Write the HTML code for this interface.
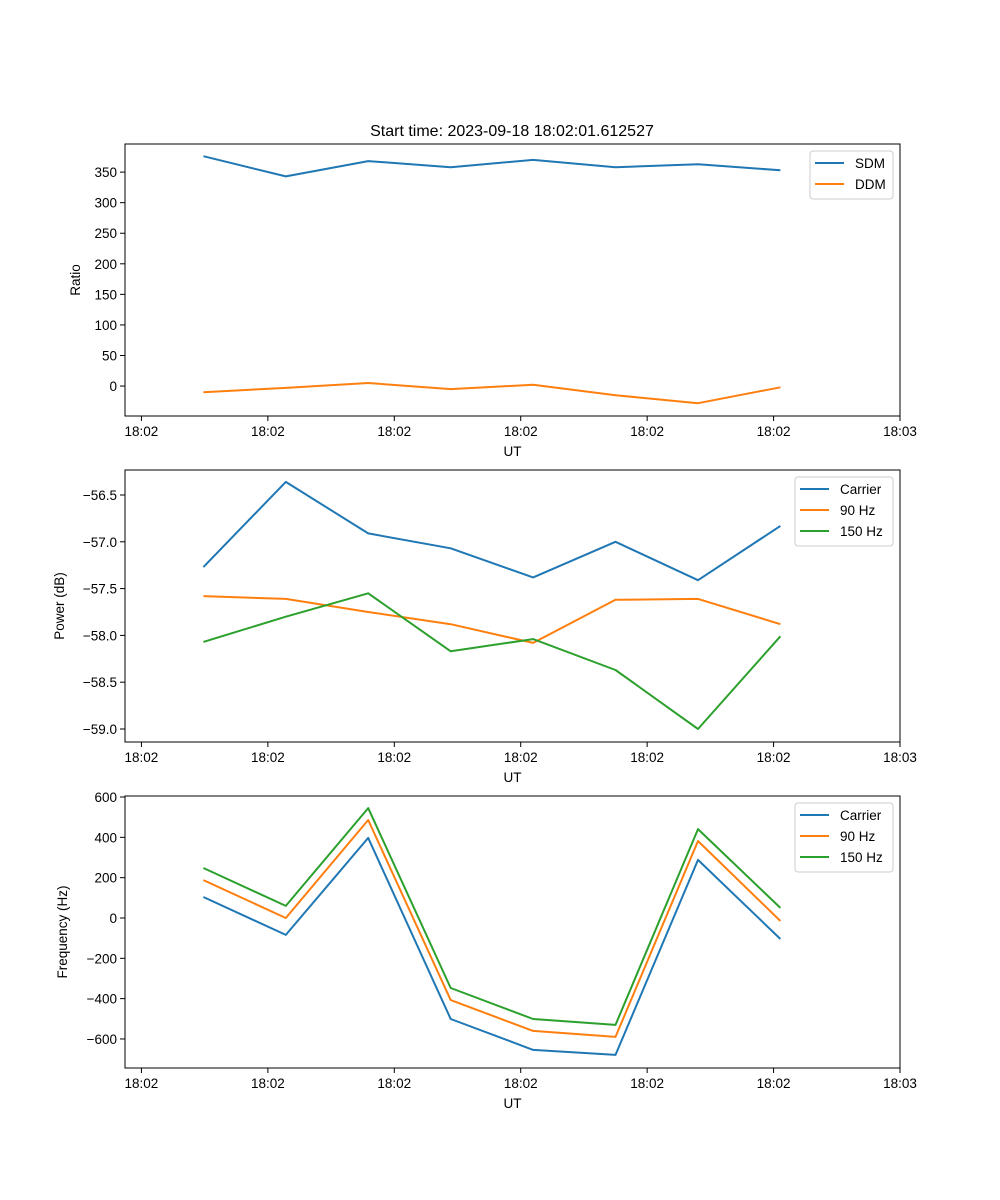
<!DOCTYPE html>
<html><head><meta charset="utf-8"><style>
html,body{margin:0;padding:0;background:#fff;}
svg{display:block;font-family:"Liberation Sans","DejaVu Sans",sans-serif;}
</style></head><body>
<svg id="fig" width="1000" height="1200" viewBox="0 0 1000 1200" xmlns="http://www.w3.org/2000/svg">
<text x="512" y="136" font-size="16" text-anchor="middle">Start time: 2023-09-18 18:02:01.612527</text>
</svg>
<script>
// x data in seconds after 18:02:00
const xTickVals = [0,10,20,30,40,50,60];
const xTickLabels = ["18:02","18:02","18:02","18:02","18:02","18:02","18:03"];
const xTimes = [4.9,11.42,17.94,24.46,30.98,37.5,44.02,50.54];

const ratioSeries = ["SDM","DDM"];
const sdmValues = [376,343,368,358,370,358,363,353];
const ddmValues = [-10,-3,5,-5,2,-15,-28,-2];
const ratioTicks = [0,50,100,150,200,250,300,350];

const sigSeries = ["Carrier","90 Hz","150 Hz"];
const powerCarrier = [-57.27,-56.36,-56.91,-57.07,-57.38,-57.0,-57.41,-56.83];
const power90 = [-57.58,-57.61,-57.75,-57.88,-58.08,-57.62,-57.61,-57.88];
const power150 = [-58.07,-57.80,-57.55,-58.17,-58.04,-58.37,-59.0,-58.01];
const powerTicks = [-59.0,-58.5,-58.0,-57.5,-57.0,-56.5];

const freqCarrier = [104,-84,397,-501,-654,-679,288,-104];
const freq90 = [188,0,486,-407,-560,-590,382,-15];
const freq150 = [248,60,545,-347,-501,-530,441,50];
const freqTicks = [-600,-400,-200,0,200,400,600];

const colors = ["#1f77b4","#ff7f0e","#2ca02c"];
const NS = "http://www.w3.org/2000/svg";
const svg = document.getElementById("fig");
function mk(tag, attrs, parent){const e=document.createElementNS(NS,tag);for(const k in attrs)e.setAttribute(k,attrs[k]);(parent||svg).appendChild(e);return e;}

const L=125,R=900,xMin=-1.3,xMax=60;
function xs(v){return L+(v-xMin)/(xMax-xMin)*(R-L);}

function panel(name, top, bot, yMin, yMax, yTicks, fmt, series, names, ylabel, legend){
  const g=mk("g",{});
  
  
  const ys=v=>bot-(v-yMin)/(yMax-yMin)*(bot-top);
  series.forEach((arr,i)=>{
    const p=mk("polyline",{points:arr.map((v,j)=>xs(xTimes[j]).toFixed(1)+","+ys(v).toFixed(1)).join(" "),fill:"none",stroke:colors[i],"stroke-width":2,"stroke-linejoin":"round"},g);
    
    
  });
  const fr=mk("rect",{x:L,y:top,width:R-L,height:bot-top,fill:"none",stroke:"#000","stroke-width":1},g);
  
  
  xTickVals.forEach((v,i)=>{
    const x=xs(v);
    mk("line",{x1:x,x2:x,y1:bot,y2:bot+5,stroke:"#000"},g);
    const t=mk("text",{x:x,y:bot+20,"font-size":13.5,"text-anchor":"middle"},g);
    t.textContent=xTickLabels[i];
    
    
  });
  const xl=mk("text",{x:(L+R)/2,y:bot+40,"font-size":13.5,"text-anchor":"middle"},g);
  xl.textContent="UT";
  
  
  yTicks.forEach(v=>{
    const y=ys(v);
    mk("line",{x1:L-5,x2:L,y1:y,y2:y,stroke:"#000"},g);
    const t=mk("text",{x:L-8,y:y+5,"font-size":13.5,"text-anchor":"end"},g);
    t.textContent=fmt(v);
    
    
  });
  const yl=mk("text",{x:0,y:0,"font-size":13.5,"text-anchor":"middle",transform:`translate(${legend.yl},${(top+bot)/2}) rotate(-90)`},g);
  yl.textContent=ylabel;
  
  
  const lg=mk("g",{},g);
  
  
  mk("rect",{x:legend.x,y:top+7,width:R-7-legend.x,height:names.length*21+6,rx:3,fill:"#fff","fill-opacity":0.8,stroke:"#ccc"},lg);
  names.forEach((n,i)=>{
    const y=top+19+i*21;
    mk("line",{x1:legend.x+5,x2:legend.x+34,y1:y,y2:y,stroke:colors[i],"stroke-width":2},lg);
    const t=mk("text",{x:legend.x+45,y:y+5,"font-size":13.5},lg);
    t.textContent=n;
    
    
  });
}
panel("ratio",144,416,-49,396,ratioTicks,v=>String(v),[sdmValues,ddmValues],ratioSeries,"Ratio",{x:810,yl:80});
panel("power",470,742,-59.139,-56.233,powerTicks,v=>"\u2212"+Math.abs(v).toFixed(1),[powerCarrier,power90,power150],sigSeries,"Power (dB)",{x:795,yl:64});
panel("frequency",796,1068,-744,605,freqTicks,v=>(v<0?"\u2212":"")+Math.abs(v),[freqCarrier,freq90,freq150],sigSeries,"Frequency (Hz)",{x:795,yl:67});
</script>
</body></html>
